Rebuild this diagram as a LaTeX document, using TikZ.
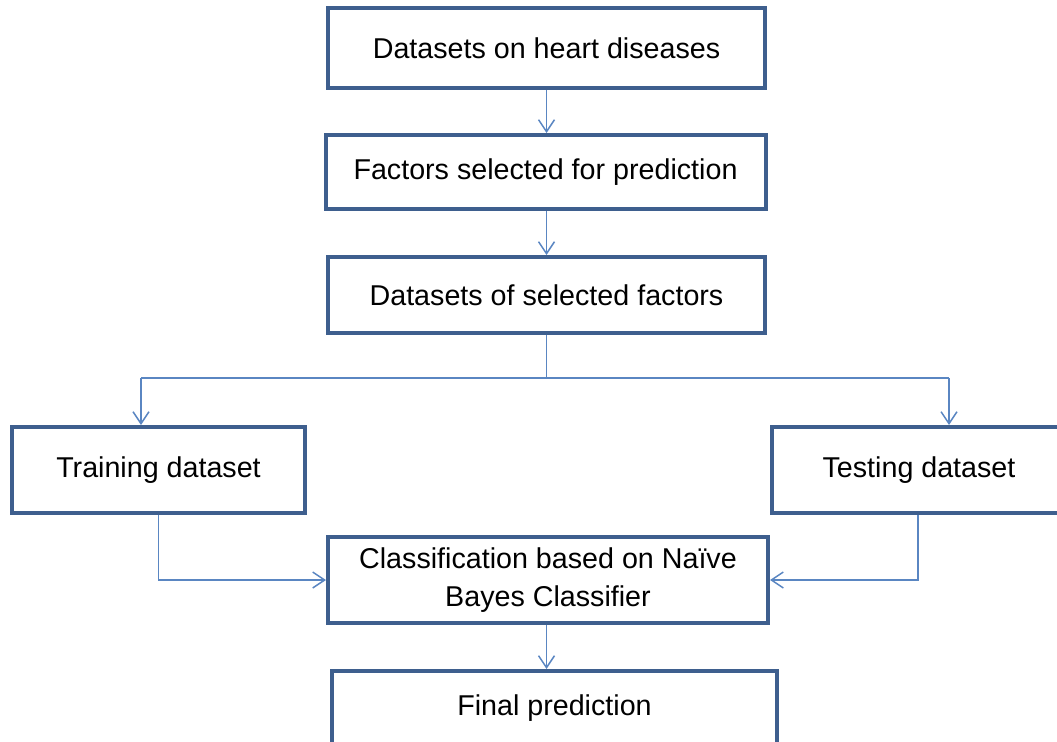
\documentclass[tikz,border=0pt]{standalone}
\usepackage{fontspec}
\setmainfont{Liberation Sans}
\usetikzlibrary{arrows.meta}
\definecolor{boxline}{HTML}{3E5F8E}
\definecolor{conline}{HTML}{5A86C2}
\tikzset{
  box/.style={draw=boxline, line width=3pt, fill=white, rectangle, align=center,
    inner sep=0pt, font=\fontsize{21.5}{28.5}\selectfont, text=black},
  conn/.style={draw=conline, line width=1.1pt},
  arr/.style={conn, -{Straight Barb[length=9pt,width=12pt,line width=1.1pt]}}
}
\begin{document}
\begin{tikzpicture}[x=0.75pt,y=-0.75pt]
\useasboundingbox (0,0) rectangle (1057,742);
\clip (0,0) rectangle (1057,742);
\fill[white] (0,0) rectangle (1057,742);
\node[box, minimum width=327.75pt, minimum height=60pt] (b1) at (546.5,48) {Datasets on heart diseases};
\node[box, minimum width=330pt, minimum height=55.5pt] (b2) at (545.5,172) {Factors selected for prediction};
\node[box, minimum width=327.75pt, minimum height=57pt] (b3) at (546.5,295) {Datasets of selected factors};
\node[box, minimum width=219.75pt, minimum height=64.5pt] (train) at (158.5,470) {Training dataset};
\node[box, minimum width=267pt, minimum height=64.5pt] (test) at (950,470) {\hspace*{-46.5pt}Testing dataset};
\node[box, minimum width=330pt, minimum height=64.5pt] (cls) at (548,580) {Classification based on Naïve\\Bayes Classifier};
\node[box, minimum width=333.75pt, minimum height=56.25pt] (fin) at (554.5,708.5) {Final prediction};
\coordinate (tl) at (141,378);
\coordinate (tr) at (949,378);
\coordinate (tout) at (918,513);
\draw[arr] (b1.south) -- (b2.north -| b1.south);
\draw[arr] (b2.south -| b1.south) -- (b3.north -| b1.south);
\draw[conn] (b3.south) -- (b3.south |- tl);
\draw[conn] (tl) -- (tr);
\draw[arr] (tl) -- (tl |- train.north);
\draw[arr] (tr) -- (tr |- test.north);
\draw[arr] (train.south) |- (cls.west);
\draw[arr] (tout |- test.south) |- (cls.east);
\draw[arr] (cls.south -| b1.south) -- (fin.north -| b1.south);
\end{tikzpicture}
\end{document}
